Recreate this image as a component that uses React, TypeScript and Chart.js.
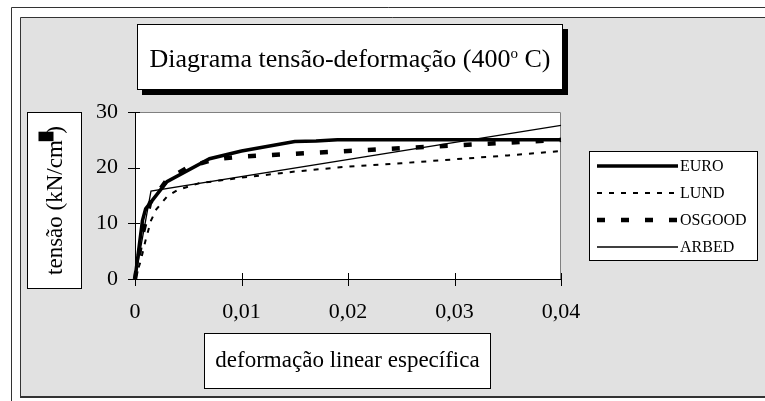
import React, { useEffect, useRef } from 'react';
import { Chart, registerables } from 'chart.js';

Chart.register(...registerables);

// ---- data ----
const seriesNames = ['EURO', 'LUND', 'OSGOOD', 'ARBED'];

const euroStrain = [0, 0.0007, 0.001, 0.003, 0.007, 0.01, 0.015, 0.017, 0.019, 0.04];
const euroStress = [0, 10.5, 12.6, 17.5, 21.6, 23.0, 24.7, 24.8, 25.0, 25.0];

const lundStrain = [0, 0.0005, 0.001, 0.0015, 0.002, 0.003, 0.004, 0.006, 0.01, 0.015, 0.02, 0.025, 0.03, 0.035, 0.04];
const lundStress = [0, 3, 7, 10.5, 12.5, 14.8, 16, 17.2, 18.2, 19.3, 20.2, 20.8, 21.5, 22.2, 23];

const osgoodStrain = [0, 0.0007, 0.0014, 0.003, 0.005, 0.0075, 0.01, 0.015, 0.02, 0.025, 0.03, 0.035, 0.04];
const osgoodStress = [0, 8, 13.6, 17.8, 20.1, 21.5, 22.0, 22.5, 23.0, 23.5, 24.0, 24.5, 25.0];

const arbedStrain = [0, 0.0015, 0.04];
const arbedStress = [0, 15.8, 27.6];

const xTickValues = [0, 0.01, 0.02, 0.03, 0.04];
const xTickLabels = ['0', '0,01', '0,02', '0,03', '0,04'];
const yTickValues = [0, 10, 20, 30];
const yTickLabels = ['0', '10', '20', '30'];

const titleMain = 'Diagrama tensão-deformação (400';
const titleSup = 'o';
const titleEnd = ' C)';
const yTitleMain = 'tensão (kN/cm';
const yTitleSup = '2';
const yTitleEnd = ')';
const xTitle = 'deformação linear específica';

// ---- layout ----
const W = 765;
const H = 401;
const SERIF = "'Liberation Serif', 'Times New Roman', serif";

const pts = (xs: number[], ys: number[]) => xs.map((x, i) => ({ x, y: ys[i] }));

const decor = {
  id: 'decor',
  beforeDraw(chart: any) {
    const { ctx, chartArea: a } = chart;
    ctx.save();
    ctx.fillStyle = '#ffffff';
    ctx.fillRect(0, 0, W, H);
    // outer frame
    ctx.strokeStyle = '#333';
    ctx.lineWidth = 1;
    ctx.beginPath();
    ctx.moveTo(11.5, H);
    ctx.lineTo(11.5, 7.5);
    ctx.lineTo(W, 7.5);
    ctx.stroke();
    // gray panel
    ctx.fillStyle = '#e1e1e1';
    ctx.fillRect(20, 17, W - 20, 380);
    ctx.beginPath();
    ctx.moveTo(20.5, 397);
    ctx.lineTo(20.5, 17.5);
    ctx.lineTo(W, 17.5);
    ctx.stroke();
    ctx.lineWidth = 2;
    ctx.beginPath();
    ctx.moveTo(20, 397);
    ctx.lineTo(W, 397);
    ctx.stroke();
    // plot area
    ctx.fillStyle = '#ffffff';
    ctx.fillRect(a.left, a.top, a.right - a.left, a.bottom - a.top);
    ctx.strokeStyle = '#808080';
    ctx.lineWidth = 1;
    ctx.beginPath();
    ctx.moveTo(a.left, a.top + 0.5);
    ctx.lineTo(a.right - 0.5, a.top + 0.5);
    ctx.lineTo(a.right - 0.5, a.bottom);
    ctx.stroke();
    ctx.restore();
  },
  afterDraw(chart: any) {
    const { ctx, chartArea: a } = chart;
    const xs = chart.scales.x;
    const ys = chart.scales.y;
    ctx.save();
    // cross tick marks
    ctx.strokeStyle = '#000';
    ctx.lineWidth = 1;
    ctx.beginPath();
    xTickValues.forEach((v) => {
      const px = Math.round(xs.getPixelForValue(v)) + 0.5;
      ctx.moveTo(px, a.bottom - 6);
      ctx.lineTo(px, a.bottom + 7);
    });
    yTickValues.forEach((v) => {
      const py = Math.round(ys.getPixelForValue(v)) + 0.5;
      ctx.moveTo(a.left - 7, py);
      ctx.lineTo(a.left + 5, py);
    });
    ctx.stroke();

    // title box with shadow
    const tb = { l: 137, t: 24, r: 563, b: 90 };
    ctx.fillStyle = '#000';
    ctx.fillRect(tb.l + 5, tb.t + 5, tb.r - tb.l, tb.b - tb.t);
    ctx.fillStyle = '#fff';
    ctx.fillRect(tb.l, tb.t, tb.r - tb.l, tb.b - tb.t);
    ctx.strokeStyle = '#000';
    ctx.strokeRect(tb.l + 0.5, tb.t + 0.5, tb.r - tb.l - 1, tb.b - tb.t - 1);
    ctx.fillStyle = '#000';
    ctx.textBaseline = 'alphabetic';
    ctx.textAlign = 'left';
    const big = `26px ${SERIF}`;
    const sup = `15px ${SERIF}`;
    ctx.font = big;
    const w1 = ctx.measureText(titleMain).width;
    const w3 = ctx.measureText(titleEnd).width;
    ctx.font = sup;
    const w2 = ctx.measureText(titleSup).width;
    let tx = (tb.l + tb.r) / 2 - (w1 + w2 + w3) / 2;
    const base = 66.5;
    ctx.font = big;
    ctx.fillText(titleMain, tx, base);
    tx += w1;
    ctx.font = sup;
    ctx.fillText(titleSup, tx, base - 9);
    tx += w2;
    ctx.font = big;
    ctx.fillText(titleEnd, tx, base);

    // y axis title box
    const yb = { l: 27, t: 112, r: 82, b: 289 };
    ctx.fillStyle = '#fff';
    ctx.fillRect(yb.l, yb.t, yb.r - yb.l, yb.b - yb.t);
    ctx.strokeRect(yb.l + 0.5, yb.t + 0.5, yb.r - yb.l - 1, yb.b - yb.t - 1);
    ctx.save();
    ctx.translate((yb.l + yb.r) / 2 + 7, (yb.t + yb.b) / 2);
    ctx.rotate(-Math.PI / 2);
    const yf = `23px ${SERIF}`;
    const ysf = `13px ${SERIF}`;
    ctx.font = yf;
    const a1 = ctx.measureText(yTitleMain).width;
    const a3 = ctx.measureText(yTitleEnd).width;
    ctx.font = ysf;
    const a2 = ctx.measureText(yTitleSup).width;
    let u = -(a1 + a2 + a3) / 2;
    ctx.fillStyle = '#000';
    ctx.font = yf;
    ctx.fillText(yTitleMain, u, 0);
    u += a1;
    ctx.fillRect(u - 1, -23, a2 + 3, 15);
    ctx.font = ysf;
    ctx.fillText(yTitleSup, u, -10);
    u += a2;
    ctx.font = yf;
    ctx.fillText(yTitleEnd, u, 0);
    ctx.restore();

    // x axis title box
    const xb = { l: 204, t: 333, r: 491, b: 389 };
    ctx.fillStyle = '#fff';
    ctx.fillRect(xb.l, xb.t, xb.r - xb.l, xb.b - xb.t);
    ctx.strokeStyle = '#000';
    ctx.strokeRect(xb.l + 0.5, xb.t + 0.5, xb.r - xb.l - 1, xb.b - xb.t - 1);
    ctx.fillStyle = '#000';
    ctx.font = `23px ${SERIF}`;
    ctx.textAlign = 'center';
    ctx.textBaseline = 'middle';
    ctx.fillText(xTitle, (xb.l + xb.r) / 2, (xb.t + xb.b) / 2);

    // legend
    const lb = { l: 589, t: 151, r: 758, b: 261 };
    ctx.fillStyle = '#fff';
    ctx.fillRect(lb.l, lb.t, lb.r - lb.l, lb.b - lb.t);
    ctx.strokeStyle = '#000';
    ctx.lineWidth = 1;
    ctx.strokeRect(lb.l + 0.5, lb.t + 0.5, lb.r - lb.l - 1, lb.b - lb.t - 1);
    ctx.font = `16px ${SERIF}`;
    ctx.textAlign = 'left';
    ctx.textBaseline = 'middle';
    chart.data.datasets.forEach((ds: any, i: number) => {
      const y = 166 + i * 27;
      ctx.save();
      ctx.strokeStyle = ds.borderColor;
      ctx.lineWidth = ds.borderWidth;
      ctx.setLineDash(ds.borderDash || []);
      ctx.beginPath();
      ctx.moveTo(597, y);
      ctx.lineTo(678, y);
      ctx.stroke();
      ctx.restore();
      ctx.fillStyle = '#000';
      ctx.fillText(ds.label, 680, y + 1);
    });
    ctx.restore();
  },
};

export default function App() {
  const ref = useRef<HTMLCanvasElement | null>(null);
  useEffect(() => {
    if (!ref.current) return;
    const tickFont = { family: SERIF, size: 22 };
    const chart = new Chart(ref.current, {
      type: 'line',
      data: {
        datasets: [
          {
            label: seriesNames[0],
            data: pts(euroStrain, euroStress),
            borderColor: '#000',
            borderWidth: 3.5,
            pointRadius: 0,
            tension: 0,
            clip: false,
          },
          {
            label: seriesNames[1],
            data: pts(lundStrain, lundStress),
            borderColor: '#000',
            borderWidth: 2,
            borderDash: [5, 7],
            pointRadius: 0,
            tension: 0,
            clip: false,
          },
          {
            label: seriesNames[2],
            data: pts(osgoodStrain, osgoodStress),
            borderColor: '#000',
            borderWidth: 4.5,
            borderDash: [8, 16],
            pointRadius: 0,
            tension: 0,
            clip: false,
          },
          {
            label: seriesNames[3],
            data: pts(arbedStrain, arbedStress),
            borderColor: '#000',
            borderWidth: 1.3,
            pointRadius: 0,
            tension: 0,
            clip: false,
          },
        ] as any,
      },
      options: {
        animation: false,
        responsive: false,
        devicePixelRatio: 1,
        parsing: false as any,
        layout: { padding: { left: 0, right: W - 561, top: 112, bottom: 0 } },
        plugins: {
          legend: { display: false },
          title: { display: false },
          tooltip: { enabled: false },
        },
        scales: {
          x: {
            type: 'linear',
            min: 0,
            max: 0.04,
            afterBuildTicks: (s: any) => {
              s.ticks = xTickValues.map((v) => ({ value: v }));
            },
            ticks: {
              callback: (_v: any, i: number) => xTickLabels[i],
              font: tickFont,
              color: '#000',
              padding: 20,
              maxRotation: 0,
              autoSkip: false,
            },
            grid: { display: false, drawTicks: false },
            border: { display: true, color: '#000', width: 1 },
            afterFit: (s: any) => {
              s.height = H - 279;
              s.paddingLeft = 0;
              s.paddingRight = 0;
            },
          },
          y: {
            type: 'linear',
            min: 0,
            max: 30,
            afterBuildTicks: (s: any) => {
              s.ticks = yTickValues.map((v) => ({ value: v }));
            },
            ticks: {
              callback: (_v: any, i: number) => yTickLabels[i],
              font: tickFont,
              color: '#000',
              padding: 17,
              autoSkip: false,
            },
            grid: { display: false, drawTicks: false },
            border: { display: true, color: '#000', width: 1 },
            afterFit: (s: any) => {
              s.width = 135;
              s.paddingTop = 0;
              s.paddingBottom = 0;
            },
          },
        },
      } as any,
      plugins: [decor],
    });
    return () => chart.destroy();
  }, []);
  return (
    <div style={{ position: 'absolute', left: 0, top: 0, width: W, height: H }}>
      <canvas ref={ref} width={W} height={H} style={{ display: 'block', width: W, height: H }} />
    </div>
  );
}
